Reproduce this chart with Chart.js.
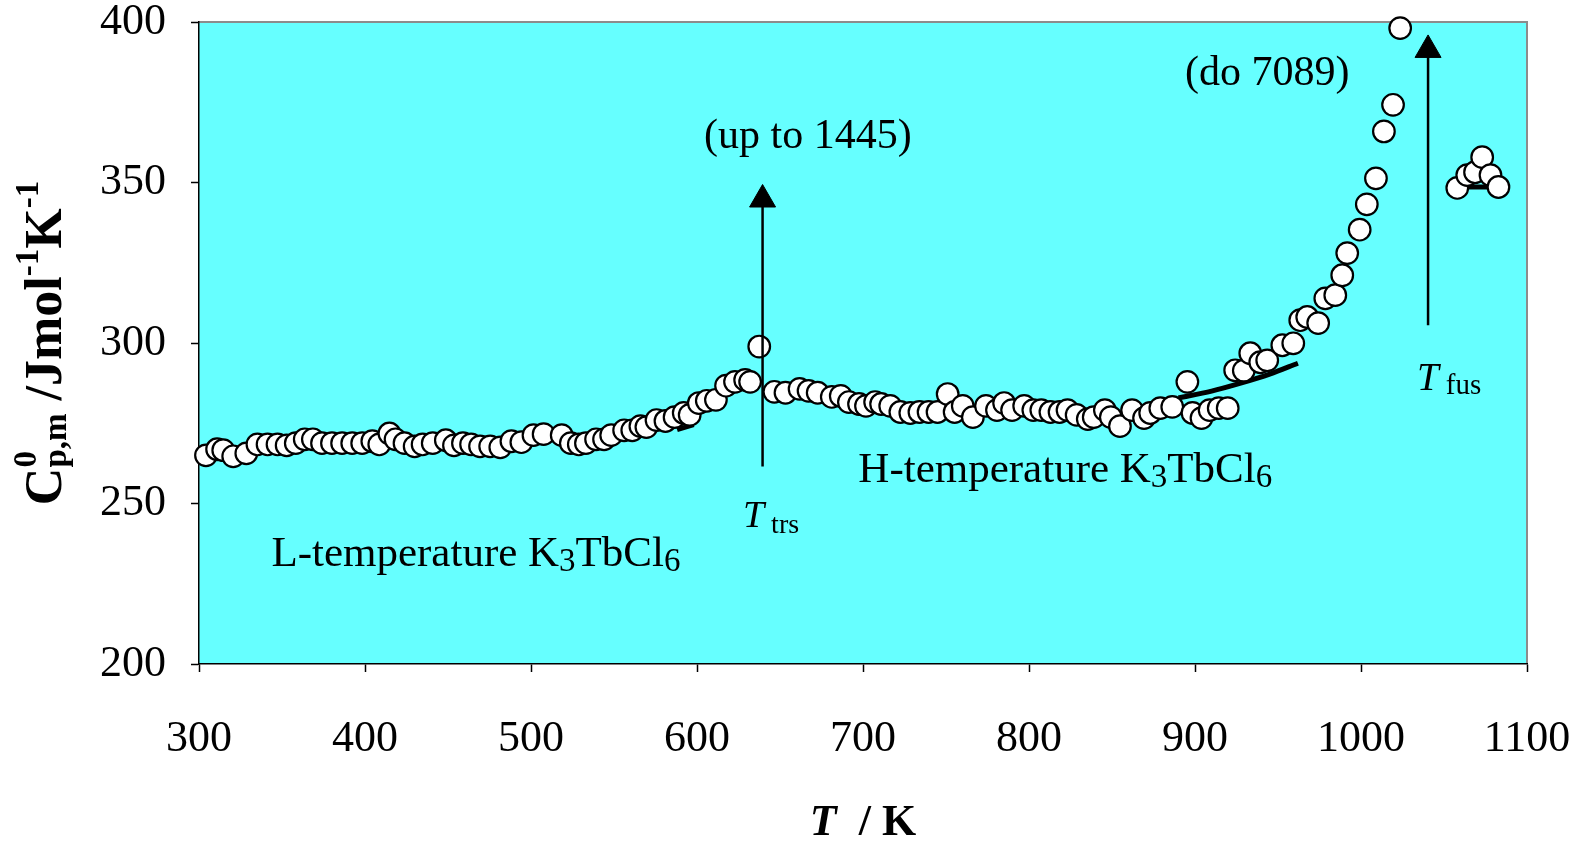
<!DOCTYPE html>
<html>
<head>
<meta charset="utf-8">
<script src="https://cdn.jsdelivr.net/npm/chart.js@4.4.1/dist/chart.umd.min.js"></script>
<style>
  html, body { margin: 0; padding: 0; background: #fff; }
  #wrap { width: 1579px; height: 842px; }
</style>
</head>
<body>
<div id="wrap"><canvas id="cpChart" width="1579" height="842"></canvas></div>
<script>
// measured heat capacity, T in K and Cp in J/(mol K)
const measT = [
  304.2, 310.9, 314.6, 320.6, 328.5, 335.2, 341.3, 347.3, 352.8, 358.3,
  363.7, 368.6, 374.1, 380.1, 386.2, 392.3, 398.3, 404.4, 408.6, 414.7,
  418.4, 423.8, 429.9, 434.7, 440.8, 448.7, 453.6, 459.0, 463.9, 469.3,
  475.4, 481.5, 488.2, 494.2, 501.5, 507.6, 518.5, 524.0, 528.8, 533.1,
  539.2, 544.0, 548.3, 556.1, 561.0, 565.9, 569.5, 575.6, 581.0, 586.5,
  592.0, 595.6, 601.1, 605.9, 611.4, 617.5, 622.9, 629.0, 632.0, 637.5,
  646.6, 653.3, 661.8, 667.2, 672.7, 681.2, 686.6, 691.5, 697.6, 701.8,
  707.3, 710.9, 716.4, 722.5, 728.5, 734.0, 739.5, 744.9, 751.0, 755.2,
  760.1, 766.2, 774.1, 780.7, 785.0, 789.8, 797.1, 802.6, 807.4, 812.9,
  818.4, 823.2, 828.7, 835.4, 839.0, 845.7, 849.3, 854.8, 862.1, 869.3,
  873.0, 879.1, 886.3, 895.4, 898.5, 903.9, 908.8, 914.3, 919.7, 924.2,
  929.4, 933.3, 939.3, 943.5, 952.6, 959.2, 963.4, 967.6, 974.2, 978.5,
  984.5, 988.7, 991.7, 999.2, 1003.5, 1009.0, 1013.8, 1019.3, 1023.6,
  1058.0, 1064.0, 1068.7, 1073.0, 1078.0, 1082.8
];
const measCp = [
  265.0, 266.9, 266.6, 264.7, 265.6, 268.4, 268.4, 268.4, 268.1, 268.8,
  270.0, 270.0, 268.8, 268.8, 268.8, 268.8, 268.8, 269.4, 268.4, 271.8,
  270.0, 268.8, 267.8, 268.4, 268.8, 269.7, 268.1, 268.8, 268.4, 267.8,
  267.8, 267.5, 269.4, 269.1, 271.3, 271.6, 271.3, 268.8, 268.4, 268.8,
  270.0, 270.0, 271.3, 272.8, 272.8, 274.1, 273.8, 276.0, 275.7, 276.9,
  278.2, 277.6, 281.3, 282.0, 282.3, 286.7, 287.9, 288.5, 287.9, 298.9,
  284.8, 284.5, 285.7, 285.1, 284.5, 283.2, 283.5, 281.6, 281.0, 280.4,
  281.6, 281.0, 280.4, 278.5, 278.2, 278.5, 278.5, 278.5, 284.1, 278.5,
  280.4, 276.9, 280.4, 279.1, 281.3, 279.1, 280.4, 279.1, 279.1, 278.5,
  278.5, 279.1, 277.6, 276.3, 276.9, 279.1, 276.9, 274.1, 279.1, 276.6,
  278.2, 279.7, 280.1, 287.9, 278.2, 276.6, 279.1, 279.7, 279.7, 291.5,
  291.4, 296.8, 294.0, 294.6, 299.3, 299.9, 307.1, 308.1, 306.2, 313.9,
  314.9, 321.1, 328.0, 335.3, 343.2, 351.3, 365.9, 374.2, 398.1,
  348.3, 352.3, 353.2, 357.9, 352.3, 348.6
];

// fitted curves (mostly hidden behind the points)
const fitLowT = [588, 598];
const fitLowCp = [273.0, 274.6];
const fitHighT = [890, 910, 927, 945, 962];
const fitHighCp = [282.9, 285.0, 287.4, 290.3, 293.7];
const fitMeltT = [1062, 1080];
const fitMeltCp = [348.6, 348.6];

// arrows marking the transition and fusion
const trsT = [639.5, 639.5];
const trsCp = [261.5, 343.5];
const trsHead = { x: 639.5, y: 344.7 };
const fusT = [1040.4, 1040.4];
const fusCp = [305.5, 390.0];
const fusHead = { x: 1040.4, y: 391.3 };

// axis ticks
const xMin = 300, xMax = 1100, xStep = 100;
const yMin = 200, yMax = 400, yStep = 50;

const SERIF = "'Liberation Serif', 'Times New Roman', serif";
const pts = (xs, ys) => xs.map((x, i) => ({ x: x, y: ys[i] }));

// text annotations, positioned in data units
const notes = [
  { x: 666.8, y: 360.7, center: true, parts: [{ text: "(up to 1445)", font: "42px " + SERIF }] },
  { x: 943.5, y: 380.4, center: true, parts: [{ text: "(do 7089)", font: "42px " + SERIF }] },
  { x: 343.6, y: 230.6, parts: [
    { text: "L-temperature K", font: "43px " + SERIF },
    { text: "3", font: "33px " + SERIF, dy: 5 },
    { text: "TbCl", font: "43px " + SERIF },
    { text: "6", font: "33px " + SERIF, dy: 5 } ] },
  { x: 697.2, y: 256.6, parts: [
    { text: "H-temperature K", font: "43px " + SERIF },
    { text: "3", font: "33px " + SERIF, dy: 5 },
    { text: "TbCl", font: "43px " + SERIF },
    { text: "6", font: "33px " + SERIF, dy: 5 } ] },
  { x: 627.7, y: 242.6, parts: [
    { text: "T", font: "italic 38px " + SERIF },
    { text: "trs", font: "28px " + SERIF, dy: 6, dx: 7 } ] },
  { x: 1033.8, y: 285.5, parts: [
    { text: "T", font: "italic 39px " + SERIF },
    { text: "fus", font: "29px " + SERIF, dy: 4, dx: 7 } ] }
];

function partsWidth(ctx, parts) {
  let w = 0;
  parts.forEach(p => {
    ctx.font = p.font;
    if (p.stack) return;
    w += (p.dx || 0) + ctx.measureText(p.text).width;
  });
  return w;
}

function drawParts(ctx, x, y, parts) {
  let cx = x;
  let stackW = 0;
  parts.forEach(p => {
    ctx.font = p.font;
    cx += p.dx || 0;
    ctx.fillText(p.text, cx, y + (p.dy || 0));
    const pw = ctx.measureText(p.text).width;
    if (p.stack) {
      stackW = pw;
    } else {
      cx += Math.max(pw, stackW);
      stackW = 0;
    }
  });
}

const framePlugin = {
  id: "frame",
  beforeDraw(chart) {
    const { ctx, chartArea: a } = chart;
    ctx.save();
    ctx.fillStyle = "#ffffff";
    ctx.fillRect(0, 0, chart.width, chart.height);
    ctx.fillStyle = "#66ffff";
    ctx.fillRect(a.left, a.top, a.right - a.left, a.bottom - a.top);
    ctx.strokeStyle = "#8c8c8c";
    ctx.lineWidth = 2;
    ctx.beginPath();
    ctx.moveTo(a.left, a.top);
    ctx.lineTo(a.right, a.top);
    ctx.lineTo(a.right, a.bottom);
    ctx.stroke();
    ctx.restore();
  }
};

const textPlugin = {
  id: "notes",
  afterDraw(chart) {
    const { ctx, chartArea: a } = chart;
    const xs = chart.scales.x, ys = chart.scales.y;
    ctx.save();
    ctx.fillStyle = "#000";
    ctx.textBaseline = "alphabetic";
    ctx.textAlign = "left";
    notes.forEach(n => {
      let px = xs.getPixelForValue(n.x);
      const py = ys.getPixelForValue(n.y);
      if (n.center) px -= partsWidth(ctx, n.parts) / 2;
      drawParts(ctx, px, py, n.parts);
    });

    // x axis title
    const xParts = [
      { text: "T", font: "italic bold 44px " + SERIF },
      { text: "  / K", font: "bold 44px " + SERIF }
    ];
    const xc = (a.left + a.right) / 2;
    drawParts(ctx, xc - partsWidth(ctx, xParts) / 2, 835, xParts);

    // y axis title, rotated
    const yParts = [
      { text: "C", font: "bold 52px " + SERIF },
      { text: "0", font: "bold 33px " + SERIF, dy: -25, stack: true },
      { text: "p,m", font: "bold 33px " + SERIF, dy: 5 },
      { text: " /Jmol", font: "bold 52px " + SERIF },
      { text: "-1", font: "bold 33px " + SERIF, dy: -23 },
      { text: "K", font: "bold 52px " + SERIF },
      { text: "-1", font: "bold 33px " + SERIF, dy: -23 }
    ];
    const yc = (a.top + a.bottom) / 2;
    ctx.translate(61, yc);
    ctx.rotate(-Math.PI / 2);
    drawParts(ctx, -partsWidth(ctx, yParts) / 2, 0, yParts);
    ctx.restore();
  }
};

const fitStyle = {
  type: "line",
  borderColor: "#000",
  borderWidth: 5,
  pointRadius: 0,
  fill: false,
  order: 2
};
const arrowStyle = {
  type: "line",
  borderColor: "#000",
  borderWidth: 2.5,
  pointRadius: 0,
  fill: false,
  order: 0
};
const headStyle = {
  type: "scatter",
  pointStyle: "triangle",
  pointRadius: 15,
  backgroundColor: "#000",
  borderColor: "#000",
  borderWidth: 1,
  order: 0,
  clip: false
};

const chartArea = document.getElementById("cpChart").getContext("2d");

const config = {
  type: "scatter",
  data: {
    datasets: [
      {
        label: "Cp",
        data: pts(measT, measCp),
        pointRadius: 10.8,
        pointStyle: "circle",
        backgroundColor: "#ffffff",
        borderColor: "#000000",
        borderWidth: 2.2,
        order: 1,
        clip: false
      },
      Object.assign({ data: pts(fitLowT, fitLowCp) }, fitStyle),
      Object.assign({ data: pts(fitHighT, fitHighCp), cubicInterpolationMode: "monotone" }, fitStyle),
      Object.assign({ data: pts(fitMeltT, fitMeltCp) }, fitStyle),
      Object.assign({ data: pts(trsT, trsCp) }, arrowStyle),
      Object.assign({ data: pts(fusT, fusCp) }, arrowStyle),
      Object.assign({ data: [trsHead] }, headStyle),
      Object.assign({ data: [fusHead] }, headStyle)
    ]
  },
  options: {
    responsive: false,
    devicePixelRatio: 1,
    animation: false,
    events: [],
    layout: { padding: { top: 22, right: 52, left: 0, bottom: 0 } },
    plugins: {
      legend: { display: false },
      tooltip: { enabled: false }
    },
    scales: {
      x: {
        type: "linear",
        min: xMin,
        max: xMax,
        afterFit: (scale) => {
          scale.height = 178;
          scale.paddingLeft = 0;
          scale.paddingRight = 0;
        },
        ticks: {
          stepSize: xStep,
          color: "#000",
          padding: 41,
          maxRotation: 0,
          font: { family: SERIF, size: 44 },
          callback: (value) => String(value)
        },
        grid: { drawOnChartArea: false, color: "#000", tickLength: 8, tickWidth: 1.5 },
        border: { color: "#000", width: 1.5 }
      },
      y: {
        min: yMin,
        max: yMax,
        afterFit: (scale) => {
          scale.width = 199;
          scale.paddingTop = 0;
          scale.paddingBottom = 0;
        },
        ticks: {
          stepSize: yStep,
          color: "#000",
          padding: 25,
          font: { family: SERIF, size: 44 },
          callback: (value) => String(value)
        },
        grid: { drawOnChartArea: false, color: "#000", tickLength: 8, tickWidth: 1.5 },
        border: { color: "#000", width: 1.5 }
      }
    }
  },
  plugins: [framePlugin, textPlugin]
};

const cpChart = new Chart(chartArea, config);
</script>
</body>
</html>
